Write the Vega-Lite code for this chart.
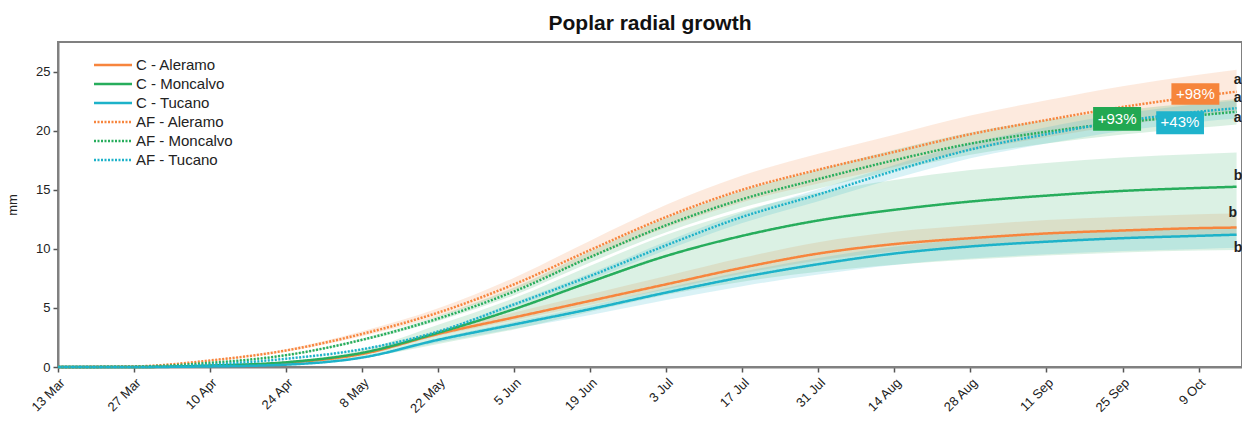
{
  "$schema": "https://vega.github.io/schema/vega-lite/v6.json",
  "width": 1184,
  "height": 325,
  "autosize": {"type": "none"},
  "padding": {"left": 58, "top": 42, "right": 0, "bottom": 61},
  "background": "white",
  "title": {"text": "Poplar radial growth", "font": "Liberation Sans", "fontSize": 21, "fontWeight": "bold", "color": "#111", "anchor": "middle", "offset": 8},
  "config": {
    "view": {"stroke": "#808080", "strokeWidth": 2},
    "font": "Liberation Sans",
    "axis": {"grid": false, "domainColor": "#808080", "domainWidth": 2, "tickColor": "#555", "labelColor": "#222", "labelFont": "Liberation Sans", "titleFont": "Liberation Sans", "titleFontWeight": "normal", "titleColor": "#222"}
  },
  "datasets": {
    "curves": [
      {"s":"C - Aleramo","d":"2021-03-13T00:00","m":0,"lo":0,"hi":0},
      {"s":"C - Aleramo","d":"2021-03-27T00:00","m":0,"lo":0,"hi":0},
      {"s":"C - Aleramo","d":"2021-04-10T00:00","m":0.1,"lo":0.09,"hi":0.11},
      {"s":"C - Aleramo","d":"2021-04-24T00:00","m":0.35,"lo":0.33,"hi":0.39},
      {"s":"C - Aleramo","d":"2021-05-08T00:00","m":1.1,"lo":1.03,"hi":1.21},
      {"s":"C - Aleramo","d":"2021-05-22T00:00","m":2.8,"lo":2.63,"hi":3.08},
      {"s":"C - Aleramo","d":"2021-06-05T00:00","m":4.2,"lo":3.95,"hi":4.62},
      {"s":"C - Aleramo","d":"2021-06-19T00:00","m":5.6,"lo":5.26,"hi":6.16},
      {"s":"C - Aleramo","d":"2021-07-03T00:00","m":7.0,"lo":6.58,"hi":7.7},
      {"s":"C - Aleramo","d":"2021-07-17T00:00","m":8.4,"lo":7.9,"hi":9.24},
      {"s":"C - Aleramo","d":"2021-07-31T00:00","m":9.6,"lo":9.02,"hi":10.56},
      {"s":"C - Aleramo","d":"2021-08-14T00:00","m":10.4,"lo":9.78,"hi":11.44},
      {"s":"C - Aleramo","d":"2021-08-28T00:00","m":10.9,"lo":10.25,"hi":11.99},
      {"s":"C - Aleramo","d":"2021-09-11T00:00","m":11.3,"lo":10.62,"hi":12.43},
      {"s":"C - Aleramo","d":"2021-09-25T00:00","m":11.55,"lo":10.86,"hi":12.71},
      {"s":"C - Aleramo","d":"2021-10-09T00:00","m":11.75,"lo":11.05,"hi":12.93},
      {"s":"C - Aleramo","d":"2021-10-16T00:00","m":11.8,"lo":11.09,"hi":12.98},

      {"s":"C - Moncalvo","d":"2021-03-13T00:00","m":0,"lo":0,"hi":0},
      {"s":"C - Moncalvo","d":"2021-03-27T00:00","m":0,"lo":0,"hi":0},
      {"s":"C - Moncalvo","d":"2021-04-10T00:00","m":0.12,"lo":0.08,"hi":0.14},
      {"s":"C - Moncalvo","d":"2021-04-24T00:00","m":0.4,"lo":0.26,"hi":0.48},
      {"s":"C - Moncalvo","d":"2021-05-08T00:00","m":1.2,"lo":0.78,"hi":1.43},
      {"s":"C - Moncalvo","d":"2021-05-22T00:00","m":2.9,"lo":1.95,"hi":3.57},
      {"s":"C - Moncalvo","d":"2021-06-05T00:00","m":4.9,"lo":3.18,"hi":5.83},
      {"s":"C - Moncalvo","d":"2021-06-19T00:00","m":7.2,"lo":4.68,"hi":8.57},
      {"s":"C - Moncalvo","d":"2021-07-03T00:00","m":9.4,"lo":6.11,"hi":11.19},
      {"s":"C - Moncalvo","d":"2021-07-17T00:00","m":11.1,"lo":7.22,"hi":13.21},
      {"s":"C - Moncalvo","d":"2021-07-31T00:00","m":12.4,"lo":8.06,"hi":14.76},
      {"s":"C - Moncalvo","d":"2021-08-14T00:00","m":13.3,"lo":8.65,"hi":15.83},
      {"s":"C - Moncalvo","d":"2021-08-28T00:00","m":14.0,"lo":9.1,"hi":16.66},
      {"s":"C - Moncalvo","d":"2021-09-11T00:00","m":14.5,"lo":9.43,"hi":17.26},
      {"s":"C - Moncalvo","d":"2021-09-25T00:00","m":14.9,"lo":9.69,"hi":17.73},
      {"s":"C - Moncalvo","d":"2021-10-09T00:00","m":15.15,"lo":9.85,"hi":18.03},
      {"s":"C - Moncalvo","d":"2021-10-16T00:00","m":15.25,"lo":9.91,"hi":18.15},

      {"s":"C - Tucano","d":"2021-03-13T00:00","m":0,"lo":0,"hi":0},
      {"s":"C - Tucano","d":"2021-03-27T00:00","m":0,"lo":0,"hi":0},
      {"s":"C - Tucano","d":"2021-04-10T00:00","m":0.05,"lo":0.05,"hi":0.05},
      {"s":"C - Tucano","d":"2021-04-24T00:00","m":0.2,"lo":0.18,"hi":0.21},
      {"s":"C - Tucano","d":"2021-05-08T00:00","m":0.8,"lo":0.72,"hi":0.85},
      {"s":"C - Tucano","d":"2021-05-22T00:00","m":2.3,"lo":2.07,"hi":2.44},
      {"s":"C - Tucano","d":"2021-06-05T00:00","m":3.6,"lo":3.24,"hi":3.82},
      {"s":"C - Tucano","d":"2021-06-19T00:00","m":4.9,"lo":4.41,"hi":5.19},
      {"s":"C - Tucano","d":"2021-07-03T00:00","m":6.3,"lo":5.67,"hi":6.68},
      {"s":"C - Tucano","d":"2021-07-17T00:00","m":7.6,"lo":6.84,"hi":8.06},
      {"s":"C - Tucano","d":"2021-07-31T00:00","m":8.7,"lo":7.83,"hi":9.22},
      {"s":"C - Tucano","d":"2021-08-14T00:00","m":9.6,"lo":8.64,"hi":10.18},
      {"s":"C - Tucano","d":"2021-08-28T00:00","m":10.2,"lo":9.18,"hi":10.81},
      {"s":"C - Tucano","d":"2021-09-11T00:00","m":10.6,"lo":9.54,"hi":11.24},
      {"s":"C - Tucano","d":"2021-09-25T00:00","m":10.9,"lo":9.81,"hi":11.55},
      {"s":"C - Tucano","d":"2021-10-09T00:00","m":11.1,"lo":9.99,"hi":11.77},
      {"s":"C - Tucano","d":"2021-10-16T00:00","m":11.2,"lo":10.08,"hi":11.87},

      {"s":"AF - Aleramo","d":"2021-03-13T00:00","m":0,"lo":0,"hi":0},
      {"s":"AF - Aleramo","d":"2021-03-27T00:00","m":0.05,"lo":0.05,"hi":0.05},
      {"s":"AF - Aleramo","d":"2021-04-10T00:00","m":0.55,"lo":0.51,"hi":0.59},
      {"s":"AF - Aleramo","d":"2021-04-24T00:00","m":1.4,"lo":1.3,"hi":1.51},
      {"s":"AF - Aleramo","d":"2021-05-08T00:00","m":2.8,"lo":2.6,"hi":3.02},
      {"s":"AF - Aleramo","d":"2021-05-22T00:00","m":4.6,"lo":4.28,"hi":4.97},
      {"s":"AF - Aleramo","d":"2021-06-05T00:00","m":7.0,"lo":6.51,"hi":7.56},
      {"s":"AF - Aleramo","d":"2021-06-19T00:00","m":9.9,"lo":9.21,"hi":10.69},
      {"s":"AF - Aleramo","d":"2021-07-03T00:00","m":12.7,"lo":11.81,"hi":13.72},
      {"s":"AF - Aleramo","d":"2021-07-17T00:00","m":15.0,"lo":13.95,"hi":16.2},
      {"s":"AF - Aleramo","d":"2021-07-31T00:00","m":16.7,"lo":15.53,"hi":18.04},
      {"s":"AF - Aleramo","d":"2021-08-14T00:00","m":18.2,"lo":16.93,"hi":19.66},
      {"s":"AF - Aleramo","d":"2021-08-28T00:00","m":19.7,"lo":18.32,"hi":21.28},
      {"s":"AF - Aleramo","d":"2021-09-11T00:00","m":20.9,"lo":19.44,"hi":22.57},
      {"s":"AF - Aleramo","d":"2021-09-25T00:00","m":22.0,"lo":20.46,"hi":23.76},
      {"s":"AF - Aleramo","d":"2021-10-09T00:00","m":22.9,"lo":21.3,"hi":24.73},
      {"s":"AF - Aleramo","d":"2021-10-16T00:00","m":23.3,"lo":21.67,"hi":25.16},

      {"s":"AF - Moncalvo","d":"2021-03-13T00:00","m":0,"lo":0,"hi":0},
      {"s":"AF - Moncalvo","d":"2021-03-27T00:00","m":0.03,"lo":0.03,"hi":0.03},
      {"s":"AF - Moncalvo","d":"2021-04-10T00:00","m":0.35,"lo":0.33,"hi":0.37},
      {"s":"AF - Moncalvo","d":"2021-04-24T00:00","m":1.0,"lo":0.95,"hi":1.05},
      {"s":"AF - Moncalvo","d":"2021-05-08T00:00","m":2.3,"lo":2.19,"hi":2.42},
      {"s":"AF - Moncalvo","d":"2021-05-22T00:00","m":4.1,"lo":3.9,"hi":4.31},
      {"s":"AF - Moncalvo","d":"2021-06-05T00:00","m":6.4,"lo":6.08,"hi":6.72},
      {"s":"AF - Moncalvo","d":"2021-06-19T00:00","m":9.3,"lo":8.84,"hi":9.77},
      {"s":"AF - Moncalvo","d":"2021-07-03T00:00","m":12.0,"lo":11.4,"hi":12.6},
      {"s":"AF - Moncalvo","d":"2021-07-17T00:00","m":14.2,"lo":13.49,"hi":14.91},
      {"s":"AF - Moncalvo","d":"2021-07-31T00:00","m":15.9,"lo":15.11,"hi":16.7},
      {"s":"AF - Moncalvo","d":"2021-08-14T00:00","m":17.5,"lo":16.63,"hi":18.38},
      {"s":"AF - Moncalvo","d":"2021-08-28T00:00","m":18.9,"lo":17.96,"hi":19.85},
      {"s":"AF - Moncalvo","d":"2021-09-11T00:00","m":19.9,"lo":18.91,"hi":20.9},
      {"s":"AF - Moncalvo","d":"2021-09-25T00:00","m":20.7,"lo":19.67,"hi":21.74},
      {"s":"AF - Moncalvo","d":"2021-10-09T00:00","m":21.3,"lo":20.24,"hi":22.37},
      {"s":"AF - Moncalvo","d":"2021-10-16T00:00","m":21.6,"lo":20.52,"hi":22.68},

      {"s":"AF - Tucano","d":"2021-03-13T00:00","m":0,"lo":0,"hi":0},
      {"s":"AF - Tucano","d":"2021-03-27T00:00","m":0,"lo":0,"hi":0},
      {"s":"AF - Tucano","d":"2021-04-10T00:00","m":0.2,"lo":0.19,"hi":0.21},
      {"s":"AF - Tucano","d":"2021-04-24T00:00","m":0.7,"lo":0.67,"hi":0.72},
      {"s":"AF - Tucano","d":"2021-05-08T00:00","m":1.5,"lo":1.44,"hi":1.55},
      {"s":"AF - Tucano","d":"2021-05-22T00:00","m":3.0,"lo":2.88,"hi":3.09},
      {"s":"AF - Tucano","d":"2021-06-05T00:00","m":5.3,"lo":5.09,"hi":5.46},
      {"s":"AF - Tucano","d":"2021-06-19T00:00","m":7.7,"lo":7.39,"hi":7.93},
      {"s":"AF - Tucano","d":"2021-07-03T00:00","m":10.3,"lo":9.89,"hi":10.61},
      {"s":"AF - Tucano","d":"2021-07-17T00:00","m":12.7,"lo":12.19,"hi":13.08},
      {"s":"AF - Tucano","d":"2021-07-31T00:00","m":14.6,"lo":14.02,"hi":15.04},
      {"s":"AF - Tucano","d":"2021-08-14T00:00","m":16.6,"lo":15.94,"hi":17.1},
      {"s":"AF - Tucano","d":"2021-08-28T00:00","m":18.4,"lo":17.66,"hi":18.95},
      {"s":"AF - Tucano","d":"2021-09-11T00:00","m":19.7,"lo":18.91,"hi":20.29},
      {"s":"AF - Tucano","d":"2021-09-25T00:00","m":20.8,"lo":19.97,"hi":21.42},
      {"s":"AF - Tucano","d":"2021-10-09T00:00","m":21.6,"lo":20.74,"hi":22.25},
      {"s":"AF - Tucano","d":"2021-10-16T00:00","m":21.9,"lo":21.02,"hi":22.56}
    ],
    "boxes": [
      {"label":"+98%","c":"AF - Aleramo","x1":"2021-10-04T00:00","x2":"2021-10-12T20:00","xm":"2021-10-08T10:00","y1":22.2,"y2":24.0,"ym":23.1},
      {"label":"+93%","c":"AF - Moncalvo","x1":"2021-09-19T14:00","x2":"2021-09-28T10:00","xm":"2021-09-24T00:00","y1":20.0,"y2":22.0,"ym":21.0},
      {"label":"+43%","c":"AF - Tucano","x1":"2021-10-01T05:00","x2":"2021-10-10T00:00","xm":"2021-10-05T14:00","y1":19.7,"y2":21.65,"ym":20.7}
    ],
    "letters": [
      {"t":"a","d":"2021-10-15T12:00","v":24.3},
      {"t":"a","d":"2021-10-15T12:00","v":22.8},
      {"t":"a","d":"2021-10-15T12:00","v":21.1},
      {"t":"b","d":"2021-10-15T12:00","v":16.2},
      {"t":"b","d":"2021-10-14T12:00","v":13.0},
      {"t":"b","d":"2021-10-15T12:00","v":10.1}
    ]
  },
  "layer": [
    {
      "data": {"name": "curves"},
      "mark": {"type": "area", "fillOpacity": 0.17, "interpolate": "monotone"},
      "encoding": {
        "x": {"field": "d", "type": "temporal"},
        "y": {"field": "lo", "type": "quantitative"},
        "y2": {"field": "hi"},
        "fill": {
          "field": "s", "type": "nominal",
          "scale": {
            "domain": ["AF - Aleramo", "AF - Moncalvo", "AF - Tucano", "C - Aleramo", "C - Moncalvo", "C - Tucano"],
            "range": ["#f6853b", "#22a852", "#1fb3cc", "#f7853d", "#27ad5c", "#1db2c9"]
          },
          "legend": null
        },
        "detail": {"field": "s"}
      }
    },
    {
      "data": {"name": "curves"},
      "mark": {"type": "line", "interpolate": "monotone"},
      "encoding": {
        "x": {
          "field": "d", "type": "temporal",
          "scale": {"domain": [{"year": 2021, "month": 3, "date": 13}, {"year": 2021, "month": 10, "date": 17}], "nice": false},
          "axis": {
            "title": null,
            "values": [
              {"year":2021,"month":3,"date":13},{"year":2021,"month":3,"date":20},{"year":2021,"month":3,"date":27},
              {"year":2021,"month":4,"date":3},{"year":2021,"month":4,"date":10},{"year":2021,"month":4,"date":17},{"year":2021,"month":4,"date":24},
              {"year":2021,"month":5,"date":1},{"year":2021,"month":5,"date":8},{"year":2021,"month":5,"date":15},{"year":2021,"month":5,"date":22},{"year":2021,"month":5,"date":29},
              {"year":2021,"month":6,"date":5},{"year":2021,"month":6,"date":12},{"year":2021,"month":6,"date":19},{"year":2021,"month":6,"date":26},
              {"year":2021,"month":7,"date":3},{"year":2021,"month":7,"date":10},{"year":2021,"month":7,"date":17},{"year":2021,"month":7,"date":24},{"year":2021,"month":7,"date":31},
              {"year":2021,"month":8,"date":7},{"year":2021,"month":8,"date":14},{"year":2021,"month":8,"date":21},{"year":2021,"month":8,"date":28},
              {"year":2021,"month":9,"date":4},{"year":2021,"month":9,"date":11},{"year":2021,"month":9,"date":18},{"year":2021,"month":9,"date":25},
              {"year":2021,"month":10,"date":2},{"year":2021,"month":10,"date":9},{"year":2021,"month":10,"date":16}
            ],
            "labelExpr": "round((datum.value - datetime(2021,2,13)) / 86400000) % 14 == 0 ? timeFormat(datum.value, '%-d %b') : ''",
            "tickSize": {"condition": {"test": "round((datum.value - datetime(2021,2,13)) / 86400000) % 14 == 0", "value": 5}, "value": 3},
            "labelAngle": -45,
            "labelFontSize": 13,
            "labelOverlap": false,
            "labelPadding": 4,
            "tickWidth": 1.5
          }
        },
        "y": {
          "field": "m", "type": "quantitative",
          "scale": {"domain": [0, 27.5], "nice": false},
          "axis": {
            "title": "mm",
            "titleFontSize": 13,
            "titlePadding": 16,
            "values": [0, 2.5, 5, 7.5, 10, 12.5, 15, 17.5, 20, 22.5, 25],
            "labelExpr": "datum.value % 5 == 0 ? datum.label : ''",
            "tickSize": {"condition": {"test": "datum.value % 5 == 0", "value": 5}, "value": 3},
            "labelFontSize": 13,
            "labelPadding": 3,
            "tickWidth": 1.5
          }
        },
        "color": {
          "field": "s", "type": "nominal",
          "scale": {
            "domain": ["C - Aleramo", "C - Moncalvo", "C - Tucano", "AF - Aleramo", "AF - Moncalvo", "AF - Tucano"],
            "range": ["#f7853d", "#27ad5c", "#1db2c9", "#f7853d", "#27ad5c", "#1db2c9"]
          },
          "legend": {
            "title": null,
            "orient": "none",
            "legendX": 44,
            "legendY": 12,
            "symbolType": "M-2,0H2",
            "symbolSize": 361,
            "labelFontSize": 15,
            "labelColor": "#222",
            "labelFont": "Liberation Sans",
            "labelOffset": 12,
            "rowPadding": -1
          }
        },
        "strokeDash": {
          "field": "s", "type": "nominal",
          "scale": {
            "domain": ["C - Aleramo", "C - Moncalvo", "C - Tucano", "AF - Aleramo", "AF - Moncalvo", "AF - Tucano"],
            "range": [[1, 0], [1, 0], [1, 0], [2, 1.5], [2, 1.5], [2, 1.5]]
          }
        },
        "strokeWidth": {
          "field": "s", "type": "nominal",
          "scale": {
            "domain": ["C - Aleramo", "C - Moncalvo", "C - Tucano", "AF - Aleramo", "AF - Moncalvo", "AF - Tucano"],
            "range": [2.5, 2.5, 2.5, 1.8, 1.8, 1.8]
          }
        }
      }
    },
    {
      "data": {"name": "boxes"},
      "mark": {"type": "rect"},
      "encoding": {
        "x": {"field": "x1", "type": "temporal"},
        "x2": {"field": "x2"},
        "y": {"field": "y1", "type": "quantitative"},
        "y2": {"field": "y2"},
        "fill": {"field": "c", "type": "nominal", "legend": null}
      }
    },
    {
      "data": {"name": "boxes"},
      "mark": {"type": "text", "color": "white", "fontSize": 15, "font": "Liberation Sans", "align": "center", "baseline": "middle"},
      "encoding": {
        "x": {"field": "xm", "type": "temporal"},
        "y": {"field": "ym", "type": "quantitative"},
        "text": {"field": "label"}
      }
    },
    {
      "data": {"name": "letters"},
      "mark": {"type": "text", "color": "#222", "fontSize": 14, "fontWeight": "bold", "font": "Liberation Sans", "align": "left", "baseline": "middle"},
      "encoding": {
        "x": {"field": "d", "type": "temporal"},
        "y": {"field": "v", "type": "quantitative"},
        "text": {"field": "t"}
      }
    }
  ]
}
